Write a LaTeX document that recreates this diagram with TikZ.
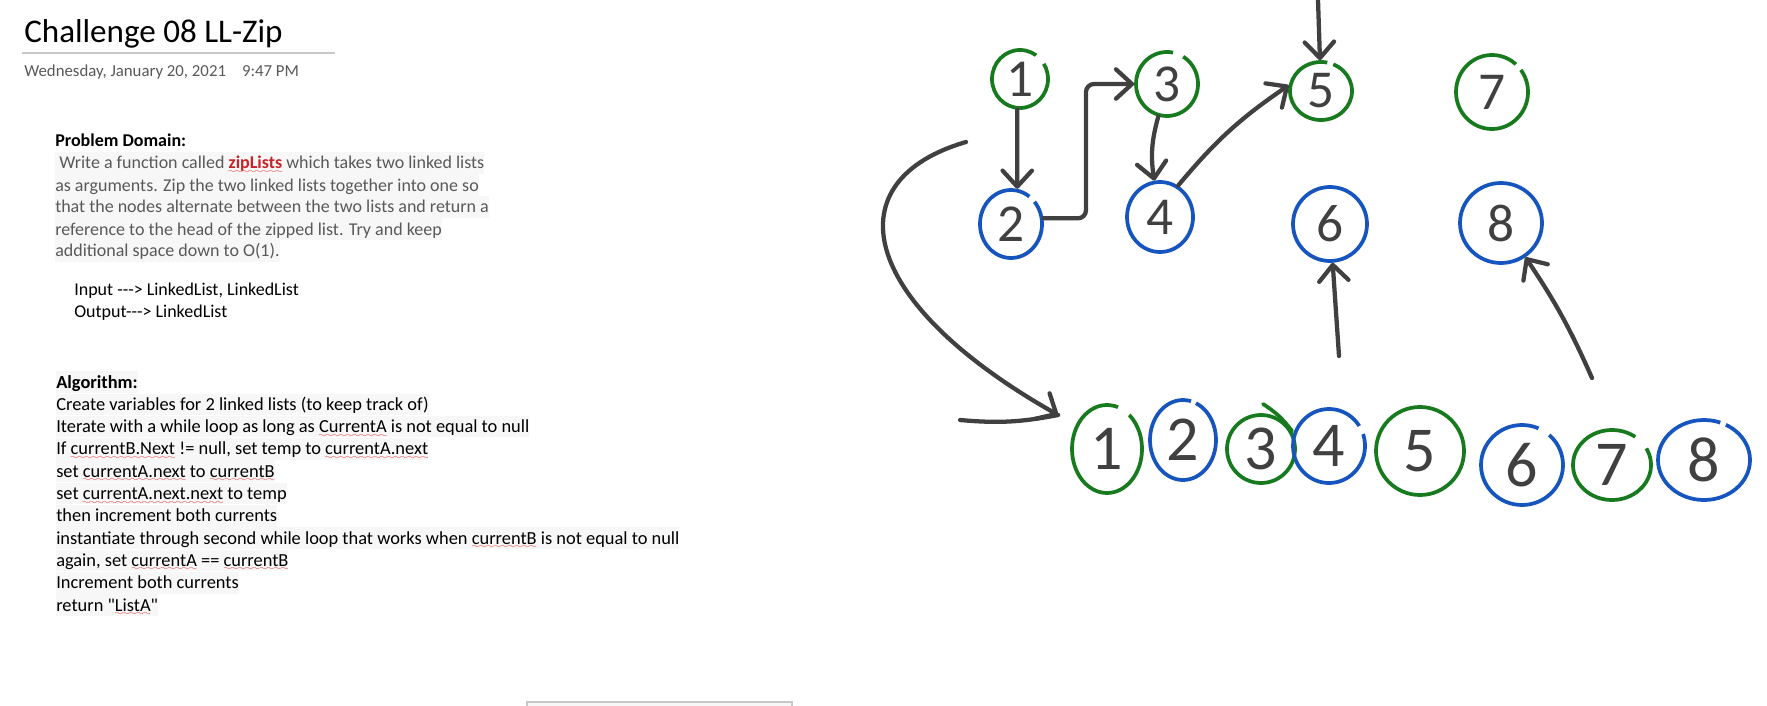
\documentclass[tikz,border=0pt]{standalone}
\usepackage{fontspec}
\setmainfont{Carlito}
\newfontfamily\rawfont{Carlito}
\usepackage{tikz}
\usetikzlibrary{shapes.geometric,positioning}
\usetikzlibrary{arrows.meta}
\definecolor{inkgray}{RGB}{64,64,64}
\definecolor{pengreen}{RGB}{24,122,30}
\definecolor{penblue}{RGB}{22,84,190}
\definecolor{notegray}{RGB}{89,89,89}
\definecolor{hilite}{RGB}{247,247,247}
\definecolor{spellred}{RGB}{228,30,30}
\definecolor{zipred}{RGB}{200,36,40}
\definecolor{rulegray}{RGB}{200,200,200}
\newcommand\notefont{\fontsize{13.5}{16}\selectfont}
\newcommand\algofont{\fontsize{13.8}{16}\selectfont}
% red wavy spell-check line under a word
\font\wavefont=lasy6
\newsavebox\wavebox
\newcommand\spellwave[1]{\sbox\wavebox{#1}\rlap{\raisebox{-3.4pt}[0pt][0pt]{\textcolor{spellred}{\hbox to\wd\wavebox{\xleaders\hbox{\wavefont\char58}\hfill}}}}\usebox\wavebox}
\tikzset{
    pagetext/.style={anchor=base west, inner sep=0pt},
    hiline/.style={pagetext, fill=hilite, text height=12.6pt, text depth=3.6pt, font=\notefont},
    % hand drawn rings
    greenring/.style={ellipse, draw=pengreen, line width=2.8pt, inner sep=0pt,
        text=inkgray, font=\fontsize{40}{40}\selectfont},
    bluering/.style={greenring, draw=penblue},
    bigdigit/.style={font=\fontsize{48}{48}\selectfont},
    ringsize/.style 2 args={minimum width=#1*1.5pt, minimum height=#2*1.5pt},
    ringgap/.style 2 args={dash pattern=on #1 off #2 on 600pt},
    inkline/.style={line width=3.2pt, inkgray, line cap=round, line join=round},
    inkarrow/.style={inkline, -{Straight Barb[length=12pt, width=22pt, round]}}
}
\begin{document}
\begin{tikzpicture}[x=0.75pt, y=-0.75pt]
\useasboundingbox (0,0) rectangle (1767,706);
\fill[white] (0,0) rectangle (1767,706);

% ===================== page header =====================
\node[pagetext, font=\fontsize{24.8}{28}\selectfont] (title) at (24,43) {Challenge 08 LL-Zip};
\draw[rulegray, line width=0.8pt] (22,53) -- (335,53);
\node[pagetext, text=notegray, font=\fontsize{12.6}{15}\selectfont] (stamp) at (24,77)
    {Wednesday, January 20, 2021\hspace{12pt}9:47 PM};

% ===================== problem domain =====================
\node[pagetext, font=\notefont\bfseries] (pdhead) at (55,147) {Problem Domain:};
\node[hiline, text=notegray] (pd1) at (55,169) {\hspace{3pt}Write a function called \textbf{\textcolor{zipred}{\spellwave{zipLists}}} which takes two linked lists};
\node[hiline, text=notegray] (pd2) at (55,191) {as arguments. Zip the two linked lists together into one so};
\node[hiline, text=notegray] (pd3) at (55,213) {that the nodes alternate between the two lists and return a};
\node[hiline, text=notegray] (pd4) at (55,235) {reference to the head of the zipped list. Try and keep};
\node[hiline, text=notegray] (pd5) at (55,257) {additional space down to O(1).};

\node[pagetext, font=\notefont\rawfont] (inp) at (74,295) {Input ---> LinkedList, LinkedList};
\node[pagetext, font=\notefont\rawfont] (outp) at (74,317) {Output---> LinkedList};

% ===================== algorithm =====================
\node[hiline, font=\algofont\bfseries] (alhead) at (56,388) {Algorithm:};
\node[hiline, font=\algofont] (al1) at (56,410.3) {Create variables for 2 linked lists (to keep track of)};
\node[hiline, font=\algofont] (al2) at (56,432.6) {Iterate with a while loop as long as \spellwave{CurrentA} is not equal to null};
\node[hiline, font=\algofont] (al3) at (56,454.9) {If \spellwave{currentB.Next} != null, set temp to \spellwave{currentA.next}};
\node[hiline, font=\algofont] (al4) at (56,477.2) {set \spellwave{currentA.next} to \spellwave{currentB}};
\node[hiline, font=\algofont] (al5) at (56,499.5) {set \spellwave{currentA.next.next} to temp};
\node[hiline, font=\algofont] (al6) at (56,521.8) {then increment both currents};
\node[hiline, font=\algofont] (al7) at (56,544.1) {instantiate through second while loop that works when \spellwave{currentB} is not equal to null};
\node[hiline, font=\algofont] (al8) at (56,566.4) {again, set \spellwave{currentA} == \spellwave{currentB}};
\node[hiline, font=\algofont] (al9) at (56,588.7) {Increment both currents};
\node[hiline, font=\algofont\rawfont] (al10) at (56,611) {return "\spellwave{ListA}"};

% box cut off at the page bottom
\draw[draw=rulegray, fill=hilite, line width=0.8pt] (527,702) rectangle (792,716);

% ===================== two input lists =====================
\node[greenring, ringsize={28}{29}, ringgap={12pt}{8.6pt}] (t1) at (1020,79) {1};
\node[greenring, ringsize={31}{32}, ringgap={24.3pt}{8.2pt}] (t3) at (1167,84) {3};
\node[greenring, ringsize={31}{29}, ringgap={25.9pt}{4.7pt}] (t5) at (1321,91) {5};
\node[greenring, ringsize={36}{37}, ringgap={17.7pt}{5.7pt}] (t7) at (1492,92) {7};
\node[bluering, ringsize={31}{34}, ringgap={17.9pt}{5.5pt}] (t2) at (1011,224) {2};
\node[bluering, ringsize={33}{35}] (t4) at (1160,217) {4};
\node[bluering, ringsize={37}{37}] (t6) at (1330,224) {6};
\node[bluering, ringsize={41}{40}] (t8) at (1501,223) {8};

\coordinate (elbow) at (1086,150);
\coordinate (in5) at (1318,0);
\coordinate (in6) at (1339,356);
\coordinate (in8) at (1592,378);

\draw[inkarrow] (t1.265) -- (t2.80);
\draw[inkarrow, rounded corners=6pt] (t2.10) -| (elbow) |- (t3.west);
\draw[inkarrow] (t3) to[bend right=12] (t4);
\draw[inkarrow] (t4.60) to[bend left=8] (t5.170);
\draw[inkarrow] (in5) -- (t5);
\draw[inkarrow] (in6) -- (t6);
\draw[inkarrow] (in8) to[bend right=5] (t8);

% ===================== zipped list =====================
\node[greenring, bigdigit, ringsize={35}{44}, ringgap={27.9pt}{10.3pt}] (b1) at (1107,449) {1};
\node[bluering, bigdigit, ringsize={33}{40}, ringgap={33pt}{4pt}] (b2) at (1183,440) {2};
\node[greenring, bigdigit, ringsize={34}{34}] (b3) at (1261,449) {3};
\node[bluering, bigdigit, ringsize={36}{37}, ringgap={9.1pt}{6.7pt}] (b4) at (1329,446) {4};
\node[greenring, bigdigit, ringsize={44}{44}] (b5) at (1420,451) {5};
\node[bluering, bigdigit, ringsize={41}{40}, ringgap={25.5pt}{9.5pt}] (b6) at (1522,465) {6};
\node[greenring, bigdigit, ringsize={39}{35}, ringgap={13.1pt}{12.1pt}] (b7) at (1612,465) {7};
\node[bluering, bigdigit, ringsize={46}{40}, ringgap={33.8pt}{4.5pt}] (b8) at (1704,460) {8};

% overshoot of the pen on ring 3
\draw[pengreen, line width=2.8pt, line cap=round] ([shift={(2,-45)}]b3.center) to[bend left=10] (b3.30);

% long arrow into the zipped list
\coordinate (loopstart) at (966,142);
\coordinate (loopend) at ([shift={(-12,-34)}]b1.west);
\coordinate (looptail) at (960,420);
\draw[inkarrow] (loopstart) .. controls (835,180) and (855,300) .. (loopend);
\draw[inkline] (looptail) to[bend right=8] (loopend);
\end{tikzpicture}
\end{document}
